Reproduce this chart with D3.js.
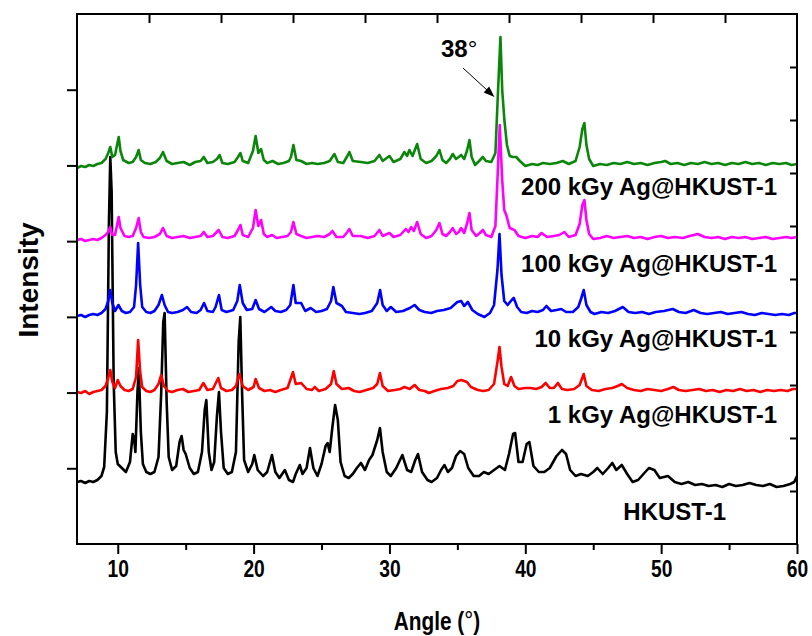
<!DOCTYPE html>
<html><head><meta charset="utf-8">
<script src="https://cdn.jsdelivr.net/npm/d3@7"></script>
<style>body{margin:0;background:#fff}svg{display:block}</style>
</head><body><svg id="c" width="812" height="636"></svg>
<script>
// ---- data: [angle (deg), intensity a.u. above own baseline] ----
const hkust = [[7,0],[7.3,1],[7.6,-1],[7.9,1],[8.2,0],[8.5,2],[8.8,6],[9,15],[9.2,70],[9.35,260],[9.45,325],[9.55,290],[9.7,100],[9.85,30],[10,18],[10.3,14],[10.6,10],[10.9,20],[11.1,48],[11.2,44],[11.3,30],[11.45,90],[11.55,114],[11.7,50],[11.85,18],[12.1,10],[12.4,8],[12.7,10],[13,25],[13.2,90],[13.35,160],[13.45,169],[13.6,80],[13.75,25],[14,12],[14.3,16],[14.55,40],[14.7,46],[14.85,32],[15,28],[15.3,14],[15.6,8],[15.9,10],[16.2,30],[16.4,72],[16.52,82],[16.7,30],[16.9,12],[17.1,20],[17.3,66],[17.45,90],[17.6,50],[17.8,14],[18.1,8],[18.4,10],[18.7,30],[18.9,140],[19.02,165],[19.15,90],[19.3,22],[19.6,10],[19.9,18],[20.05,27],[20.3,12],[20.7,6],[21,10],[21.35,27],[21.6,10],[21.9,4],[22.3,12],[22.6,2],[22.9,0],[23.1,8],[23.4,17],[23.6,8],[23.9,14],[24.15,34],[24.4,14],[24.7,6],[25,18],[25.3,36],[25.45,39],[25.6,30],[25.8,55],[26,77],[26.2,62],[26.4,20],[26.7,6],[27,4],[27.3,8],[27.6,14],[27.9,19],[28.2,12],[28.5,22],[28.75,27],[29.1,42],[29.3,54],[29.5,30],[29.8,10],[30.1,6],[30.5,14],[30.95,27],[31.3,12],[31.6,10],[31.9,22],[32.1,28],[32.4,10],[32.8,2],[33.1,0],[33.5,4],[33.8,12],[34.05,17],[34.3,10],[34.6,14],[34.9,26],[35.2,31],[35.5,28],[35.8,14],[36.2,6],[36.6,6],[36.95,10],[37.3,8],[37.7,12],[38.1,16],[38.5,12],[38.8,28],[39.1,48],[39.25,49],[39.5,20],[39.8,20],[40.1,38],[40.3,40],[40.6,16],[41,10],[41.4,10],[41.8,14],[42.3,26],[42.7,32],[43,28],[43.3,12],[43.7,6],[44.1,8],[44.6,6],[45,10],[45.3,14],[45.7,8],[46.1,14],[46.4,19],[46.7,12],[47.1,17],[47.5,8],[47.9,0],[48.3,2],[48.7,8],[49.1,14],[49.5,12],[49.9,4],[50.5,6],[51,0],[51.5,-2],[52,0],[52.5,-3],[53,-2],[53.5,-4],[54,-3],[54.5,-5],[55,-2],[55.5,-4],[56,-3],[56.5,-1],[57,-3],[57.5,-4],[58,-2],[58.5,-5],[59,-4],[59.5,-2],[59.8,0],[60,6]];
const kgy1 = [[7,0],[7.3,-1],[7.6,1],[7.9,-2],[8.2,0],[8.5,1],[8.8,2],[9.1,6],[9.3,14],[9.45,22],[9.6,10],[9.8,4],[10,12],[10.2,6],[10.5,2],[10.8,1],[11.1,3],[11.35,15],[11.5,52],[11.65,20],[11.8,5],[12.1,1],[12.4,0],[12.7,2],[13,8],[13.2,17],[13.4,6],[13.7,1],[14,0],[14.4,2],[14.8,3],[15.2,0],[15.6,1],[16,2],[16.3,9],[16.6,2],[17,3],[17.4,14],[17.6,4],[18,1],[18.4,2],[18.7,6],[18.95,18],[19.2,6],[19.6,2],[20,5],[20.15,13],[20.4,4],[20.8,1],[21.2,2],[21.6,0],[22,2],[22.5,4],[22.9,20],[23.1,8],[23.5,9],[23.9,3],[24.3,2],[24.5,5],[24.8,1],[25.3,3],[25.7,8],[25.9,21],[26.1,8],[26.5,3],[27,4],[27.4,1],[27.8,0],[28.3,2],[28.8,4],[29.1,8],[29.3,19],[29.5,6],[29.9,1],[30.4,2],[30.8,3],[31.1,5],[31.5,3],[31.85,7],[32.2,2],[32.6,1],[32.9,-1],[33.3,1],[33.8,3],[34.3,4],[34.7,6],[35,11],[35.3,12],[35.7,10],[36,5],[36.5,2],[36.9,1],[37.3,2],[37.7,8],[37.95,30],[38.1,45],[38.25,25],[38.45,8],[38.7,6],[38.95,15],[39.2,6],[39.5,3],[40,4],[40.4,4],[40.8,3],[41.2,5],[41.5,9],[41.8,4],[42.1,4],[42.4,9],[42.7,3],[43.1,2],[43.6,3],[44,7],[44.3,18],[44.5,6],[44.9,2],[45.4,1],[45.9,3],[46.4,4],[46.8,6],[47.1,8],[47.5,4],[48,2],[48.5,1],[49,3],[49.5,2],[50,1],[50.5,3],[50.9,5],[51.3,2],[51.8,1],[52.3,2],[52.8,3],[53.3,1],[53.8,2],[54.3,0],[54.8,2],[55.3,1],[55.8,3],[56.3,1],[56.8,2],[57.3,0],[57.8,2],[58.3,1],[58.8,2],[59.3,1],[59.7,3],[60,3]];
const kgy10 = [[7,-1],[7.3,0],[7.6,-2],[7.9,0],[8.2,1],[8.5,0],[8.8,2],[9.1,6],[9.3,14],[9.45,25],[9.6,12],[9.8,4],[10.05,10],[10.3,4],[10.6,2],[10.9,3],[11.2,8],[11.35,30],[11.5,72],[11.65,30],[11.8,8],[12.1,3],[12.4,2],[12.7,4],[13,10],[13.25,20],[13.45,10],[13.7,3],[14,2],[14.4,3],[14.8,5],[15.1,8],[15.4,3],[15.8,2],[16.1,5],[16.35,12],[16.6,4],[17,3],[17.2,8],[17.45,20],[17.65,5],[18,3],[18.5,5],[18.8,14],[18.98,30],[19.2,12],[19.5,5],[19.9,6],[20.15,15],[20.4,6],[20.8,3],[21.3,8],[21.6,4],[22,3],[22.4,5],[22.7,10],[22.93,30],[23.1,12],[23.5,12],[23.8,4],[24.2,7],[24.6,3],[25,4],[25.4,6],[25.7,14],[25.87,28],[26.1,12],[26.5,9],[26.8,3],[27.3,2],[27.8,1],[28.2,2],[28.7,4],[29.1,12],[29.31,25],[29.5,10],[29.8,4],[30.1,8],[30.5,3],[31,4],[31.5,7],[31.85,10],[32.2,5],[32.6,3],[33.07,2],[33.5,4],[34,5],[34.5,7],[35,13],[35.28,14],[35.5,9],[35.77,13],[36.1,5],[36.5,1],[36.99,-2],[37.4,2],[37.7,10],[37.95,45],[38.1,81],[38.25,40],[38.45,14],[38.7,10],[39,15],[39.15,17],[39.4,8],[39.7,3],[40.1,2],[40.5,4],[40.9,3],[41.3,5],[41.55,9],[41.9,4],[42.3,5],[42.65,6],[43,3],[43.5,3],[43.9,8],[44.1,16],[44.3,25],[44.5,10],[44.8,3],[45.1,1],[45.6,3],[46.1,2],[46.6,4],[47.18,8],[47.6,3],[48.1,2],[48.6,3],[49.1,1],[49.6,3],[50.2,4],[50.86,6],[51.3,3],[51.8,2],[52.4,5],[52.9,2],[53.4,1],[53.9,2],[54.4,3],[54.9,1],[55.4,2],[55.9,3],[56.4,1],[56.9,0],[57.4,2],[57.9,1],[58.4,0],[58.9,1],[59.4,0],[59.8,2],[60,2]];
const kgy100 = [[7,0],[7.3,1],[7.6,-1],[7.9,0],[8.2,1],[8.5,0],[8.8,2],[9.1,5],[9.3,8],[9.45,13],[9.6,5],[9.8,5],[9.95,15],[10.07,23],[10.2,12],[10.5,4],[10.8,3],[11.1,4],[11.35,12],[11.54,22],[11.7,8],[11.9,3],[12.3,2],[12.7,3],[13.1,6],[13.33,12],[13.6,4],[14,2],[14.4,3],[14.85,4],[15.3,2],[15.7,3],[16.1,4],[16.33,8],[16.6,3],[17,4],[17.43,10],[17.7,3],[18.1,2],[18.6,4],[18.85,10],[19.03,15],[19.2,5],[19.6,3],[19.95,12],[20.15,30],[20.35,14],[20.55,20],[20.75,6],[21,3],[21.36,5],[21.7,2],[22.1,3],[22.5,4],[22.75,8],[22.93,18],[23.15,6],[23.5,4],[23.9,2],[24.3,3],[24.7,4],[25.2,3],[25.6,6],[25.8,9],[26.1,3],[26.6,3],[26.9,8],[27.05,11],[27.3,4],[27.9,4],[28.4,2],[28.9,4],[29.26,10],[29.5,4],[30,7],[30.3,3],[30.8,5],[31.2,11],[31.4,8],[31.6,13],[31.8,9],[32.04,18],[32.3,6],[32.7,2],[33.1,4],[33.45,10],[33.68,17],[33.9,6],[34.17,4],[34.45,8],[34.66,12],[34.9,6],[35.1,8],[35.28,12],[35.5,7],[35.7,16],[35.89,27],[36.05,10],[36.38,4],[36.65,7],[36.88,10],[37.1,5],[37.5,3],[37.8,14],[37.98,70],[38.12,115],[38.3,60],[38.45,30],[38.6,25],[38.85,12],[39.2,10],[39.5,4],[40,2],[40.5,4],[40.9,3],[41.2,7],[41.6,3],[42.1,4],[42.5,5],[42.88,8],[43.2,3],[43.7,5],[44,16],[44.2,35],[44.35,40],[44.5,20],[44.7,6],[45,1],[45.5,2],[46,4],[46.5,2],[47,3],[47.5,4],[48,2],[48.5,3],[49,1],[49.5,3],[50,4],[50.5,2],[51,3],[51.6,2],[52.1,4],[52.7,6],[53.2,3],[53.7,2],[54.2,3],[54.7,1],[55.2,3],[55.7,2],[56.2,3],[56.7,1],[57.2,2],[57.7,3],[58.2,1],[58.7,2],[59.2,3],[59.6,2],[60,3]];
const kgy200 = [[7,-3],[7.3,-1],[7.6,-2],[7.9,0],[8.2,-1],[8.5,1],[8.8,2],[9.1,6],[9.3,12],[9.45,18],[9.6,8],[9.8,10],[9.95,20],[10.07,28],[10.2,14],[10.4,5],[10.8,2],[11.1,3],[11.35,8],[11.54,15],[11.7,5],[12,2],[12.4,1],[12.8,3],[13.1,7],[13.33,13],[13.6,4],[14,1],[14.4,2],[14.85,3],[15.3,0],[15.7,3],[16.1,4],[16.33,8],[16.6,2],[17,3],[17.3,6],[17.5,10],[17.7,2],[18.1,1],[18.6,3],[18.85,8],[19.03,12],[19.2,4],[19.6,2],[19.95,14],[20.15,29],[20.35,12],[20.55,16],[20.75,5],[21,2],[21.4,4],[21.8,1],[22.2,2],[22.6,4],[22.75,8],[22.93,20],[23.15,5],[23.5,4],[23.9,1],[24.3,2],[24.7,1],[25.2,2],[25.6,4],[25.95,11],[26.2,3],[26.6,2],[26.9,9],[27.05,13],[27.3,4],[27.9,3],[28.4,2],[28.9,4],[29.26,10],[29.5,4],[30,9],[30.3,3],[30.8,6],[31.1,13],[31.3,9],[31.47,15],[31.7,9],[32.04,21],[32.3,6],[32.7,2],[33.1,4],[33.45,9],[33.68,15],[33.9,5],[34.17,2],[34.45,6],[34.66,11],[34.9,6],[35.1,8],[35.28,10],[35.5,6],[35.7,14],[35.89,25],[36.05,8],[36.3,0],[36.6,4],[36.88,8],[37.1,4],[37.5,3],[37.8,12],[37.98,70],[38.17,128],[38.3,75],[38.46,45],[38.65,20],[38.85,9],[39.08,8],[39.33,8],[39.6,4],[40,-1],[40.5,1],[40.9,0],[41.3,2],[41.8,1],[42.3,2],[42.76,4],[43.2,1],[43.7,4],[44,18],[44.2,36],[44.35,42],[44.5,20],[44.7,6],[45,-1],[45.5,1],[46,0],[46.5,2],[47,1],[47.5,3],[48,1],[48.5,2],[49,0],[49.5,2],[50,3],[50.3,4],[50.7,1],[51.2,2],[51.7,0],[52.2,2],[52.7,1],[53.2,3],[53.7,1],[54.2,2],[54.7,0],[55.2,2],[55.7,1],[56.2,3],[56.7,1],[57.2,2],[57.7,0],[58.2,2],[58.7,1],[59.2,2],[59.6,0],[60,1]];

const seriesNames = ["HKUST-1", "1 kGy Ag@HKUST-1", "10 kGy Ag@HKUST-1", "100 kGy Ag@HKUST-1", "200 kGy Ag@HKUST-1"];
const seriesData = [hkust, kgy1, kgy10, kgy100, kgy200];
const offsets = [62, 152, 229, 304, 379];   // vertical stacking offsets (a.u.)
const xTicks = [10, 20, 30, 40, 50, 60];
const xMinorTicks = [15, 25, 35, 45, 55];
const peakLabel = {text: "38", angle: 38.1};

// ---- layout / style ----
const colors = ["#000000", "#ff0000", "#0000ff", "#ff00ff", "#0a870a"];
const M = {l: 77, r: 797, t: 14, b: 544};
const svg = d3.select("#c");
const x = d3.scaleLinear().domain([7, 60]).range([M.l, M.r]);
const y = d3.scaleLinear().domain([0, 530]).range([M.b, M.t]);

const line = d3.line().x(d => x(d[0])).y(d => y(d[1]));
seriesData.forEach((s, i) => {
  svg.append("path")
    .datum(s.map(d => [d[0], d[1] + offsets[i]]))
    .attr("d", line).attr("fill", "none")
    .attr("stroke", colors[i]).attr("stroke-width", 2.6)
    .attr("stroke-linejoin", "round");
});

// frame
svg.append("rect").attr("x", M.l).attr("y", M.t).attr("width", M.r - M.l).attr("height", M.b - M.t)
  .attr("fill", "none").attr("stroke", "#000").attr("stroke-width", 2);

// bottom axis
const tickFont = "'Liberation Sans',Arial,sans-serif";
const narrow = "scale(0.8,1)";
const xAxis = d3.axisBottom(x).tickValues(xTicks).tickSize(10).tickPadding(6).tickFormat(d3.format("d"));
const gx = svg.append("g").attr("transform", `translate(0,${M.b})`).call(xAxis);
gx.select(".domain").remove();
gx.selectAll("line").attr("stroke-width", 2);
gx.selectAll("text").attr("font-family", tickFont).attr("font-weight", "bold").attr("font-size", 24)
  .attr("fill", "#000").attr("transform", narrow);
const gxm = svg.append("g").attr("transform", `translate(0,${M.b})`)
  .call(d3.axisBottom(x).tickValues(xMinorTicks).tickSize(6).tickFormat(""));
gxm.select(".domain").remove();
gxm.selectAll("line").attr("stroke-width", 2);

// left ticks (outward), right ticks (inward), top ticks (inward)
const yl = d3.scaleLinear().domain([0, 7]).range([M.b, M.t]);
const gl = svg.append("g").attr("transform", `translate(${M.l},0)`)
  .call(d3.axisLeft(yl).tickValues([1,2,3,4,5,6]).tickSize(10).tickFormat(""));
gl.select(".domain").remove(); gl.selectAll("line").attr("stroke-width", 2);
const yr = d3.scaleLinear().domain([0, 10]).range([M.b, M.t]);
const gr = svg.append("g").attr("transform", `translate(${M.r},0)`)
  .call(d3.axisRight(yr).tickValues(d3.range(1,10)).tickSize(-7).tickFormat(""));
gr.select(".domain").remove(); gr.selectAll("line").attr("stroke-width", 2);
const xt = d3.scaleLinear().domain([0, 10]).range([M.l, M.r]);
const gt = svg.append("g").attr("transform", `translate(0,${M.t})`)
  .call(d3.axisTop(xt).tickValues(d3.range(1,10)).tickSize(-9).tickFormat(""));
gt.select(".domain").remove(); gt.selectAll("line").attr("stroke-width", 2);

// axis titles
const titleFont = "'Liberation Sans',Arial,sans-serif";
const ax = svg.append("g").attr("transform", `translate(${(M.l + M.r) / 2},630) ${narrow}`)
  .append("text").attr("text-anchor", "middle")
  .attr("font-family", tickFont).attr("font-weight", "bold").attr("font-size", 26);
ax.append("tspan").text("Angle (");
ax.append("tspan").text("°").attr("font-size", 28).attr("font-weight", "normal");
ax.append("tspan").text(")");
svg.append("text").attr("transform", "translate(38,280) rotate(-90)").attr("text-anchor", "middle")
  .attr("font-family", titleFont).attr("font-weight", "bold").attr("font-size", 28).text("Intensity");

// series labels
const labelPos = [[726, 520], [777, 423], [777, 347], [777, 272], [777, 195]];
seriesNames.forEach((n, i) => {
  svg.append("text").attr("x", labelPos[i][0]).attr("y", labelPos[i][1]).attr("text-anchor", "end")
    .attr("font-family", titleFont).attr("font-weight", "bold").attr("font-size", 24).text(n);
});

// 38° annotation with arrow
const pl = svg.append("text").attr("x", 441).attr("y", 57)
  .attr("font-family", titleFont).attr("font-weight", "bold").attr("font-size", 24);
pl.append("tspan").text(peakLabel.text);
pl.append("tspan").text("°").attr("font-size", 24).attr("font-weight", "normal");
const ax0 = 463, ay0 = 68, ax1 = x(peakLabel.angle) - 5, ay1 = 97;
svg.append("line").attr("x1", ax0).attr("y1", ay0).attr("x2", ax1 - 6).attr("y2", ay1 - 5.6)
  .attr("stroke", "#000").attr("stroke-width", 1);
const ang = Math.atan2(ay1 - ay0, ax1 - ax0);
const hl = 11, hw = 4;
const p = [[ax1, ay1],
  [ax1 - hl*Math.cos(ang) + hw*Math.sin(ang), ay1 - hl*Math.sin(ang) - hw*Math.cos(ang)],
  [ax1 - hl*Math.cos(ang) - hw*Math.sin(ang), ay1 - hl*Math.sin(ang) + hw*Math.cos(ang)]];
svg.append("polygon").attr("points", p.map(q => q.join(",")).join(" ")).attr("fill", "#000");
</script></body></html>
